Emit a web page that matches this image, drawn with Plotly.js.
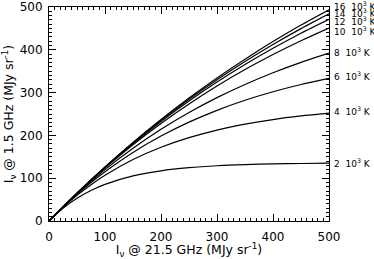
<!DOCTYPE html>
<html>
<head>
<meta charset="utf-8">
<script src="https://cdn.plot.ly/plotly-3.0.1.min.js"></script>
<style>html,body{margin:0;padding:0;background:#fff;}#chart{width:374px;height:259px;}</style>
</head>
<body>
<div id="chart"></div>
<script>
// x: intensity at 21.5 GHz (MJy/sr)
const xVals = [0, 25, 50, 75, 100, 150, 200, 250, 300, 350, 400, 450, 500];
// temperature labels (10^3 K)
const temps = [2, 4, 6, 8, 10, 12, 14, 16];
// y: intensity at 1.5 GHz (MJy/sr), one array per temperature
const y2  = [0, 29.9, 53.2, 71.4, 85.6, 105.3, 117.3, 124.6, 129.1, 131.8, 133.4, 134.4, 135.0];
const y4  = [0, 31.8, 59.9, 84.8, 106.8, 143.5, 172.2, 194.7, 212.4, 226.2, 237.0, 245.4, 252.1];
const y6  = [0, 32.4, 62.3, 89.8, 115.2, 160.2, 198.5, 231.0, 258.6, 282.1, 302.0, 319.0, 333.4];
const y8  = [0, 32.8, 63.6, 92.6, 120.0, 169.9, 214.2, 253.5, 288.3, 319.1, 346.5, 370.7, 392.2];
const y10 = [0, 33.0, 64.6, 94.9, 123.9, 178.3, 228.0, 273.6, 315.4, 353.8, 388.9, 421.1, 450.7];
const y12 = [0, 33.1, 64.9, 95.7, 125.1, 180.9, 232.5, 280.4, 324.6, 365.6, 403.6, 438.8, 471.3];
const y14 = [0, 33.1, 65.1, 96.1, 125.9, 182.4, 235.1, 284.3, 330.1, 372.8, 412.5, 449.5, 484.0];
const y16 = [0, 33.2, 65.3, 96.4, 126.5, 183.6, 237.2, 287.3, 334.3, 378.1, 419.2, 457.8, 493.7];
const series = [y2, y4, y6, y8, y10, y12, y14, y16];

const FONT = 'DejaVu Sans, Verdana, sans-serif';

const traces = series.map(ys => ({
  x: xVals, y: ys, type: 'scatter', mode: 'lines',
  line: {color: '#000', width: 1.2, shape: 'spline', smoothing: 0.8},
  hoverinfo: 'skip', showlegend: false
}));

// small vertical nudges so the crowded labels do not collide
const labelShift = [0, 2, 2, 1, -3, -2, 1, 4];

const annotations = series.map((ys, i) => ({
  x: xVals[xVals.length - 1], y: ys[ys.length - 1], xref: 'x', yref: 'y',
  text: temps[i] + '  10<sup>3</sup> K', showarrow: false,
  xanchor: 'left', yanchor: 'middle', xshift: 3, yshift: labelShift[i],
  font: {family: FONT, size: 9, color: '#000'}
}));

const axisCommon = {
  range: [0, 500], dtick: 100, tick0: 0,
  showgrid: false, zeroline: false,
  showline: true, linecolor: '#000', linewidth: 1, mirror: 'ticks',
  ticks: 'inside', ticklen: 7, tickwidth: 1, tickcolor: '#000',
  minor: {dtick: 10, ticks: 'inside', ticklen: 3, tickwidth: 1, tickcolor: '#000', showgrid: false},
  tickfont: {family: FONT, size: 12, color: '#000'}
};

const layout = {
  width: 374, height: 259,
  margin: {l: 49, r: 45, t: 7, b: 38},
  paper_bgcolor: '#fff', plot_bgcolor: '#fff',
  font: {family: FONT, size: 12, color: '#000'},
  xaxis: Object.assign({}, axisCommon, {
    ticklabelstandoff: 5,
    title: {text: 'I<sub>ν</sub> @ 21.5 GHz (MJy sr<sup>-1</sup>)', standoff: 5,
            font: {family: FONT, size: 12.5, color: '#000'}}
  }),
  yaxis: Object.assign({}, axisCommon, {
    ticklabelstandoff: 3,
    title: {text: 'I<sub>ν</sub> @ 1.5 GHz (MJy sr<sup>-1</sup>)', standoff: 3,
            font: {family: FONT, size: 12.5, color: '#000'}}
  }),
  annotations: annotations
};

Plotly.newPlot('chart', traces, layout, {staticPlot: true, displayModeBar: false});
</script>
</body>
</html>
